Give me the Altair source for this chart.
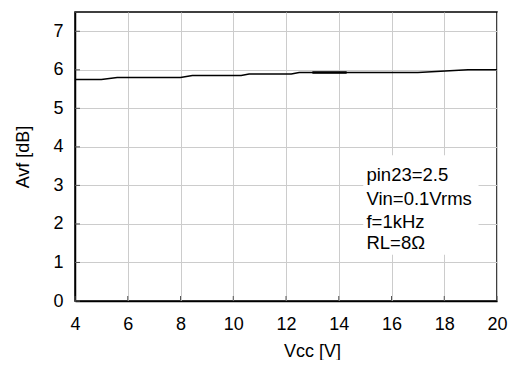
import altair as alt
import pandas as pd

# Curve data (Vcc [V], Avf [dB])
vcc = [4.0, 5.0, 5.6, 8.0, 8.45, 10.3, 10.6, 12.2, 12.5, 17.0, 18.9, 20.0]
avf = [5.75, 5.75, 5.80, 5.80, 5.85, 5.85, 5.89, 5.89, 5.93, 5.93, 6.0, 6.0]
# short thicker segment
seg_vcc = [13.0, 14.3]
seg_avf = [5.93, 5.93]

x_ticks = [4, 6, 8, 10, 12, 14, 16, 18, 20]
y_ticks = [0, 1, 2, 3, 4, 5, 6, 7]

note_lines = ["pin23=2.5", "Vin=0.1Vrms", "f=1kHz", "RL=8Ω"]
note_y = [3.26, 2.66, 2.04, 1.50]
note_x = 15.05
box_x = [14.93, 19.3]
box_y = [1.2, 3.78]

FONT = "Liberation Sans"

df = pd.DataFrame({"vcc": vcc, "avf": avf})
seg = pd.DataFrame({"vcc": seg_vcc, "avf": seg_avf})
notes = pd.DataFrame({"t": note_lines, "y": note_y, "x": [note_x] * len(note_lines)})
box = pd.DataFrame({"x": [box_x[0]], "x2": [box_x[1]], "y": [box_y[0]], "y2": [box_y[1]]})
xt = pd.DataFrame({"v": x_ticks})
yt = pd.DataFrame({"v": y_ticks})

xs = alt.Scale(domain=[4, 20], nice=False, zero=False)
ys = alt.Scale(domain=[0, 7.5], nice=False)

common = dict(grid=True, ticks=False, labelFlush=False,
              labelFont=FONT, titleFont=FONT, labelFontSize=18, titleFontSize=18,
              labelColor="black", titleColor="black", titleFontWeight="normal",
              gridColor="#cccccc", gridWidth=1, domainColor="black", domainWidth=1.5)

xax = alt.Axis(values=x_ticks, title="Vcc [V]", labelPadding=14, titlePadding=9,
               titleX=237, **common)
yax = alt.Axis(values=y_ticks, title="Avf [dB]", labelPadding=12, titlePadding=20,
               **common)

base_line = alt.Chart(df).mark_line(color="black", strokeWidth=1.5).encode(
    x=alt.X("vcc:Q", scale=xs, axis=xax),
    y=alt.Y("avf:Q", scale=ys, axis=yax),
)

seg_line = alt.Chart(seg).mark_line(color="black", strokeWidth=2.5).encode(
    x=alt.X("vcc:Q", scale=xs), y=alt.Y("avf:Q", scale=ys)
)

box_rect = alt.Chart(box).mark_rect(color="white").encode(
    x=alt.X("x:Q", scale=xs), x2="x2", y=alt.Y("y:Q", scale=ys), y2="y2"
)

xtick = alt.Chart(xt).mark_rule(color="#555555", strokeWidth=1).encode(
    x=alt.X("v:Q", scale=xs), y=alt.value(289), y2=alt.value(284)
)
ytick = alt.Chart(yt).mark_rule(color="#555555", strokeWidth=1).encode(
    y=alt.Y("v:Q", scale=ys), x=alt.value(0), x2=alt.value(5)
)

note_text = alt.Chart(notes).mark_text(align="left", baseline="middle", fontSize=18.5,
                                       font=FONT, color="black").encode(
    x=alt.X("x:Q", scale=xs), y=alt.Y("y:Q", scale=ys), text="t:N"
)

chart = alt.layer(box_rect, xtick, ytick, base_line, seg_line, note_text).properties(
    width=422, height=289,
    background="white",
    autosize=alt.AutoSizeParams(type="none"),
    padding={"left": 67, "top": 4, "right": 11, "bottom": 59},
).configure_view(
    stroke="black", strokeWidth=1.5
)

chart.save("out.html", embed_options={"renderer": "svg", "actions": False})
